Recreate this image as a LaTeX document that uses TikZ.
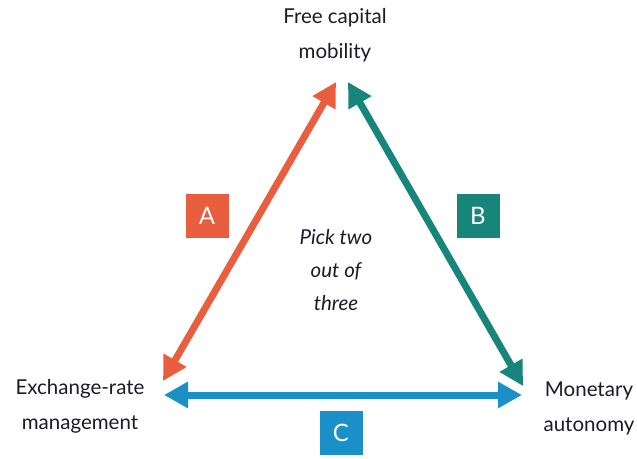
\documentclass[tikz,border=0pt]{standalone}
\usepackage{fontspec}
\setmainfont{Lato}
\usetikzlibrary{arrows.meta}
\definecolor{cred}{HTML}{E95E3F}
\definecolor{cteal}{HTML}{17857A}
\definecolor{cblue}{HTML}{1A8FC8}
\definecolor{ctext}{HTML}{1A1A2A}
\begin{document}
\begin{tikzpicture}[x=1pt,y=-1pt,
  lbl/.style={text=ctext,font=\fontsize{20.5}{35}\selectfont,align=center,inner sep=0pt},
  tagbox/.style={fill=#1,text=white,minimum width=43pt,minimum height=44pt,inner sep=0pt,font=\fontsize{24}{24}\selectfont},
  arr/.style={draw=#1,line width=7pt,{Triangle[length=24pt,width=25pt]}-{Triangle[length=24pt,width=25pt]}}]
\useasboundingbox (0,0) rectangle (637,458);
\node[lbl] (top) at (335,35) {Free capital\\mobility};
\node[lbl] (left) at (80,406) {Exchange-rate\\management};
\node[lbl] (right) at (589,408) {Monetary\\autonomy};
\coordinate (rA1) at (163,381);
\coordinate (rA2) at (336,82);
\coordinate (tB1) at (348,82);
\coordinate (tB2) at (523,386);
\coordinate (bC1) at (164,395);
\coordinate (bC2) at (522,395);
\draw[arr=cred] (rA1) -- (rA2);
\draw[arr=cteal] (tB1) -- (tB2);
\draw[arr=cblue] (bC1) -- (bC2);
\node[tagbox=cred] (A) at (207,216) {A};
\node[tagbox=cteal] (B) at (478,216) {B};
\node[tagbox=cblue] (C) at (341,433) {C};
\node[lbl,font=\fontsize{20.5}{33}\selectfont\itshape] (mid) at (336,270) {Pick two\\out of\\three};
\end{tikzpicture}
\end{document}
